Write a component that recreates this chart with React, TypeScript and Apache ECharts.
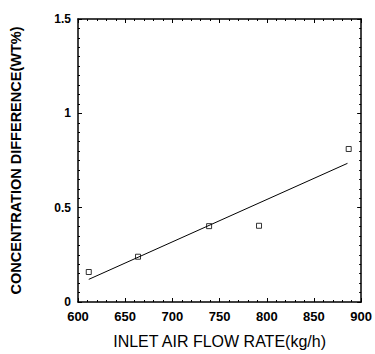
import React, { useEffect, useRef } from "react";
import * as echarts from "echarts";

const flowRate = [611.4, 663.6, 738.9, 791.8, 886.8];
const concDiff = [0.159, 0.24, 0.402, 0.404, 0.811];
const fitX = [611.4, 885.5];
const fitY = [0.12, 0.735];
const xTitle = "INLET AIR FLOW RATE(kg/h)";
const yTitle = "CONCENTRATION DIFFERENCE(WT%)";

export default function App() {
  const ref = useRef<HTMLDivElement>(null);
  useEffect(() => {
    const chart = echarts.init(ref.current!, undefined, { renderer: "svg" });
    const font = "'Liberation Sans', Arial, sans-serif";
    const axisCommon = {
      axisLine: { show: true, onZero: false, lineStyle: { color: "#000", width: 1.5 } },
      axisTick: { show: true, inside: true, length: 4, lineStyle: { color: "#000", width: 1 } },
      minorTick: { show: true, length: 2, lineStyle: { color: "#000", width: 1 } },
      splitLine: { show: false },
    };
    chart.setOption({
      animation: false,
      backgroundColor: "#fff",
      grid: { left: 77, right: 8, top: 19, bottom: 51, containLabel: false },
      xAxis: [
        {
          type: "value", min: 600, max: 900, interval: 50, position: "bottom",
          ...axisCommon,
          minorTick: { ...axisCommon.minorTick, splitNumber: 5 },
          axisLabel: { color: "#000", fontFamily: font, fontWeight: "bold", fontSize: 13, margin: 8 },
          name: xTitle, nameLocation: "middle", nameGap: 31,
          nameTextStyle: { color: "#000", fontFamily: font, fontSize: 16 },
        },
        {
          type: "value", min: 600, max: 900, interval: 50, position: "top",
          ...axisCommon,
          minorTick: { ...axisCommon.minorTick, splitNumber: 5 },
          axisLabel: { show: false },
        },
      ],
      yAxis: [
        {
          type: "value", min: 0, max: 1.5, interval: 0.5, position: "left",
          ...axisCommon,
          minorTick: { ...axisCommon.minorTick, splitNumber: 10 },
          axisLabel: { color: "#000", fontFamily: font, fontWeight: "bold", fontSize: 12, margin: 7 },
          name: yTitle, nameLocation: "middle", nameGap: 55, nameRotate: 90,
          nameTextStyle: { color: "#000", fontFamily: font, fontWeight: "bold", fontSize: 14.5 },
        },
        {
          type: "value", min: 0, max: 1.5, interval: 0.5, position: "right",
          ...axisCommon,
          minorTick: { ...axisCommon.minorTick, splitNumber: 10 },
          axisLabel: { show: false },
        },
      ],
      series: [
        {
          type: "scatter",
          data: flowRate.map((x, i) => [x, concDiff[i]]),
          symbol: "rect",
          symbolSize: 5,
          itemStyle: { color: "#fff", borderColor: "#000", borderWidth: 1 },
        },
        {
          type: "line",
          data: fitX.map((x, i) => [x, fitY[i]]),
          symbol: "none",
          lineStyle: { color: "#000", width: 1 },
        },
      ],
    });
    return () => chart.dispose();
  }, []);
  return <div ref={ref} style={{ width: 375, height: 354, position: "absolute", left: 0, top: 0 }} />;
}
